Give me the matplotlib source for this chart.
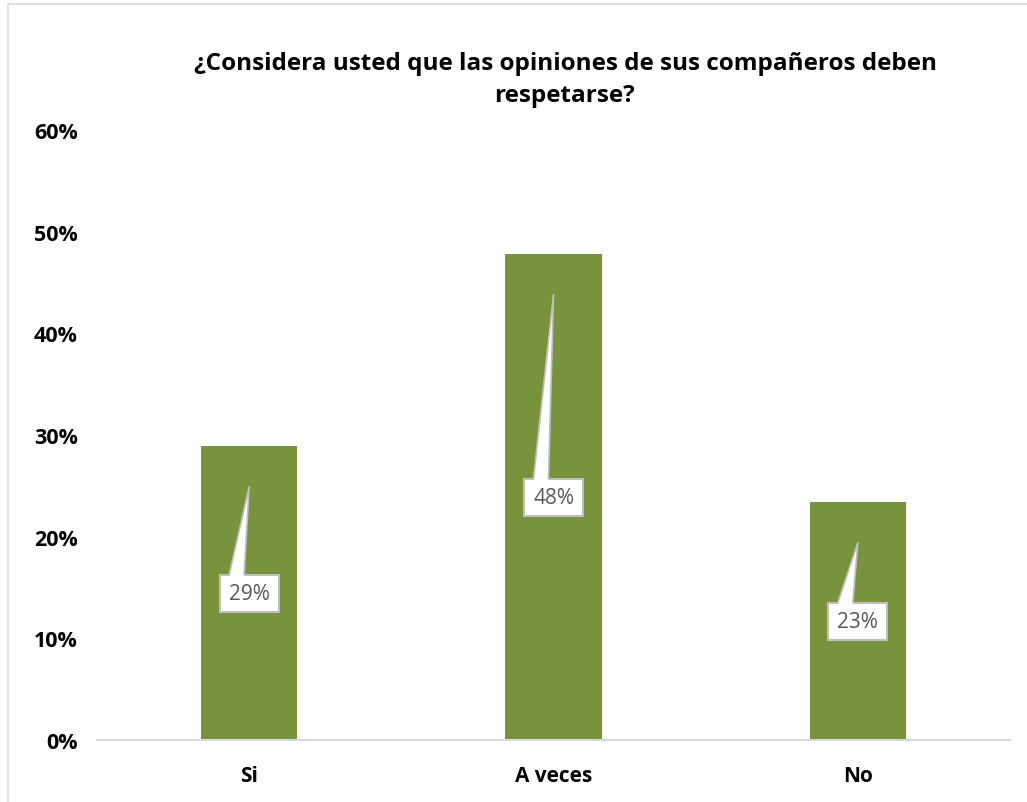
import matplotlib.pyplot as plt
from matplotlib.patches import Polygon, Rectangle
from matplotlib.lines import Line2D

categories = ["Si", "A veces", "No"]
values = [0.289, 0.478, 0.234]
tick_values = [0, 0.1, 0.2, 0.3, 0.4, 0.5, 0.6]
tick_labels = ["0%", "10%", "20%", "30%", "40%", "50%", "60%"]
title = "¿Considera usted que las opiniones de sus compañeros deben\nrespetarse?"

W, H = 1027, 803
fig = plt.figure(figsize=(W / 100, H / 100), dpi=100)
plt.rcParams['font.family'] = ['Open Sans', 'DejaVu Sans']

# chart border
fig.patches.append(Rectangle((8 / W, -0.01), 1.02 - 8 / W, 1 - 5 / H + 0.01,
                             transform=fig.transFigure, fill=False,
                             edgecolor='#D9D9D9', linewidth=1.2))

ax_l, ax_r, ax_b, ax_t = 97, 1010, 741, 131
ax = fig.add_axes([ax_l / W, (H - ax_b) / H, (ax_r - ax_l) / W, (ax_b - ax_t) / H])

x = list(range(len(categories)))
ax.bar(x, values, width=0.316, color='#77933C', zorder=2)
ax.set_xlim(-0.5, 2.5)
ax.set_ylim(0, 0.6)

ax.set_yticks(tick_values)
ax.set_yticklabels(tick_labels, fontsize=15.5, fontweight='bold')
ax.set_xticks(x)
ax.set_xticklabels(categories, fontsize=15, fontweight='bold')
ax.tick_params(length=0)
ax.tick_params(axis='y', pad=14)
ax.tick_params(axis='x', pad=18)
for side in ['top', 'right', 'left']:
    ax.spines[side].set_visible(False)
ax.spines['bottom'].set_color('#D9D9D9')
ax.spines['bottom'].set_linewidth(1.5)

fig.text(565 / W, 1 - 80 / H, title, ha='center', va='center',
         fontsize=17.5, fontweight='bold', linespacing=1.45)

# callout labels: box at half the bar, pointer up towards the top
px_x = (ax_r - ax_l) / 3.0      # pixels per category
px_y = (ax_b - ax_t) / 0.6      # pixels per unit of value
for xi, v in zip(x, values):
    ly = v / 2
    tip_y = v - 0.04
    box_w = 59 / px_x
    box_h = 37 / px_y
    top = ly + box_h / 2
    ax.add_patch(Rectangle((xi - box_w / 2, ly - box_h / 2), box_w, box_h,
                           facecolor='white', edgecolor='#BFBFBF',
                           linewidth=1.5, zorder=4))
    ax.text(xi, ly, f"{round(v * 100)}%", ha='center', va='center',
            fontsize=15, color='#595959', zorder=6)
    bl = xi - 20 / px_x
    br = xi - 5 / px_x
    poly = Polygon([(bl, top - 1.5 / px_y), (xi, tip_y), (br, top - 1.5 / px_y)],
                   closed=True, facecolor='white', edgecolor='none', zorder=5)
    ax.add_patch(poly)
    ax.add_line(Line2D([bl, xi, br], [top, tip_y, top], color='#BFBFBF',
                       linewidth=1.2, zorder=5))

fig.savefig("out.png", dpi=100)
